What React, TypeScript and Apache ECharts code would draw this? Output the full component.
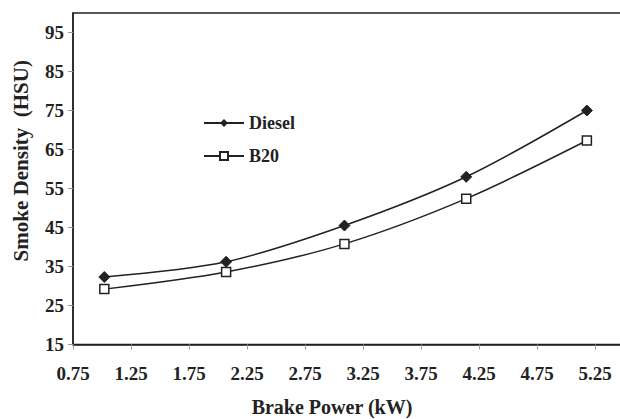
import React, { useEffect, useRef } from "react";
import * as echarts from "echarts";

const brakePower = [1.02, 2.07, 3.09, 4.14, 5.18];
const dieselSmoke = [32.3, 36.2, 45.5, 58.0, 75.0];
const b20Smoke = [29.2, 33.6, 40.8, 52.4, 67.3];
const seriesNames = ["Diesel", "B20"];
const xTitle = "Brake Power (kW)";
const yTitle = "Smoke Density  (HSU)";

const FONT = "'Liberation Serif', 'Times New Roman', serif";

export default function App() {
  const ref = useRef<HTMLDivElement>(null);
  useEffect(() => {
    if (!ref.current) return;
    const chart = echarts.init(ref.current, undefined, { renderer: "svg" });
    const toPairs = (ys: number[]) => brakePower.map((x, i) => [x, ys[i]]);
    chart.setOption({
      animation: false,
      backgroundColor: "#ffffff",
      textStyle: { fontFamily: FONT },
      grid: {
        left: 73,
        top: 13,
        right: -33,
        bottom: 74.5,
        containLabel: false,
        outerBoundsMode: "none",
        show: true,
        borderColor: "#222",
        borderWidth: 1.5,
        backgroundColor: "transparent",
      },
      legend: {
        orient: "vertical",
        left: 203,
        top: 114,
        padding: 0,
        itemWidth: 40,
        itemHeight: 10,
        itemGap: 15,
        data: seriesNames,
        textStyle: { fontFamily: FONT, fontWeight: "bold", fontSize: 18, color: "#222" },
      },
      xAxis: {
        type: "value",
        min: 0.75,
        max: 5.75,
        interval: 0.5,
        splitLine: { show: false },
        axisLine: { show: true, lineStyle: { color: "#222", width: 1.5 } },
        axisTick: { show: true, length: 5, lineStyle: { color: "#999" } },
        axisLabel: {
          margin: 19,
          fontFamily: FONT,
          fontWeight: "bold",
          fontSize: 19,
          color: "#222",
          showMaxLabel: false,
          formatter: (v: number) => v.toFixed(2),
        },
        name: xTitle,
        nameLocation: "middle",
        nameGap: 52,
        nameTextStyle: {
          fontFamily: FONT,
          fontWeight: "bold",
          fontSize: 20,
          color: "#222",
          padding: [0, 62, 0, 0],
        },
      },
      yAxis: {
        type: "value",
        min: 15,
        max: 100,
        interval: 10,
        splitLine: { show: false },
        axisLine: { show: true, lineStyle: { color: "#222", width: 1.5 } },
        axisTick: { show: true, length: 5, lineStyle: { color: "#999" } },
        axisLabel: {
          margin: 9,
          fontFamily: FONT,
          fontWeight: "bold",
          fontSize: 19,
          color: "#222",
          showMaxLabel: false,
        },
        name: yTitle,
        nameLocation: "middle",
        nameGap: 42,
        nameTextStyle: {
          fontFamily: FONT,
          fontWeight: "bold",
          fontSize: 21,
          color: "#222",
          padding: [0, 0, 0, 36],
        },
      },
      series: [
        {
          name: seriesNames[0],
          type: "line",
          data: toPairs(dieselSmoke),
          smooth: 0.3,
          symbol: "diamond",
          symbolSize: 11,
          lineStyle: { color: "#222", width: 1.5 },
          itemStyle: { color: "#222", borderColor: "#222" },
        },
        {
          name: seriesNames[1],
          type: "line",
          data: toPairs(b20Smoke),
          smooth: 0.3,
          symbol: "rect",
          symbolSize: 9,
          lineStyle: { color: "#222", width: 1.5 },
          itemStyle: { color: "#fff", borderColor: "#222", borderWidth: 1.5 },
        },
      ],
    });
    return () => chart.dispose();
  }, []);
  return (
    <div
      ref={ref}
      style={{ position: "fixed", left: 0, top: 0, width: 620, height: 419, background: "#fff" }}
    />
  );
}
